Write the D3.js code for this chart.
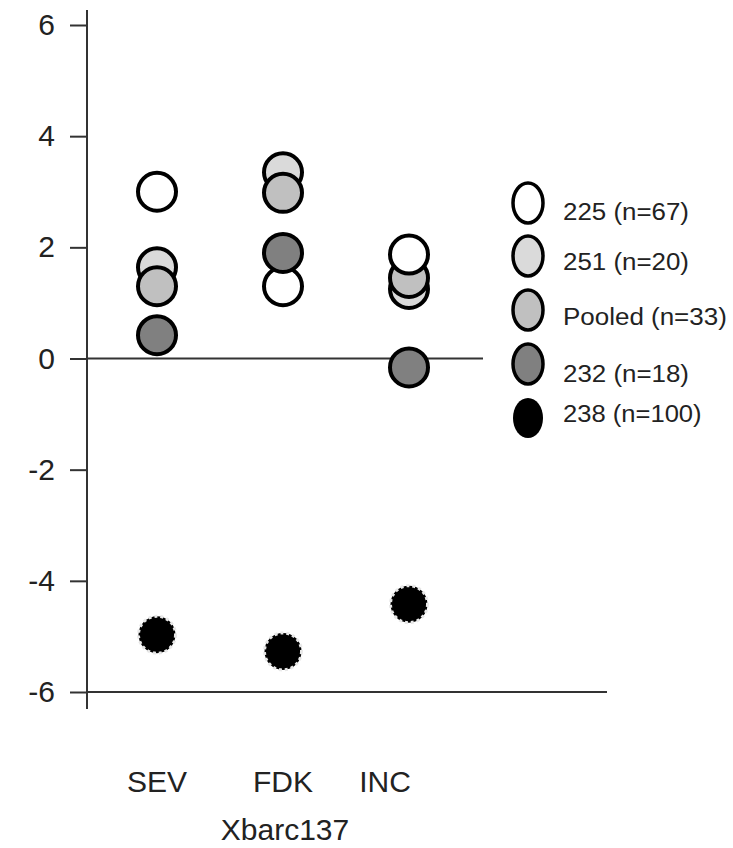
<!DOCTYPE html>
<html>
<head>
<meta charset="utf-8">
<script src="https://cdn.jsdelivr.net/npm/d3@7"></script>
<style>
  body { margin: 0; background: #fff; }
  svg { display: block; }
  text { font-family: "Liberation Sans", Arial, sans-serif; fill: #222; }
</style>
</head>
<body>
<div id="chart"></div>
<script>
'use strict';

var categories = ['SEV', 'FDK', 'INC'];
var alleles = ['225 (n=67)', '251 (n=20)', 'Pooled (n=33)', '232 (n=18)', '238 (n=100)'];
var fills = ['#ffffff', '#dadada', '#c0c0c0', '#808080', '#000000'];

// one value per category (SEV, FDK, INC)
var v225 = [3.0, 1.3, 1.87];
var v251 = [1.64, 3.35, 1.25];
var vPooled = [1.3, 2.98, 1.45];
var v232 = [0.42, 1.9, -0.16];
var v238 = [-4.97, -5.27, -4.42];

var yTicks = [6, 4, 2, 0, -2, -4, -6];

var width = 733, height = 848;

var svg = d3.select('#chart').append('svg')
  .attr('width', width)
  .attr('height', height);

var y = d3.scaleLinear().domain([-6, 6]).range([692, 25]);
var x = d3.scalePoint().domain(categories).range([157, 409]);

// axis line
svg.append('line')
  .attr('x1', 87).attr('x2', 87)
  .attr('y1', 10).attr('y2', 709)
  .attr('stroke', '#333').attr('stroke-width', 2);

var yAxis = d3.axisLeft(y)
  .tickValues(yTicks)
  .tickFormat(function(d){ return String(d); })
  .tickSize(17).tickPadding(15);
var gy = svg.append('g').attr('transform', 'translate(87,0)').call(yAxis);
gy.select('.domain').remove();
gy.selectAll('.tick line').attr('stroke', '#333').attr('stroke-width', 2);
gy.selectAll('.tick text')
  .attr('font-size', 30)
  .style('font-family', '"Liberation Sans", Arial, sans-serif')
  .attr('fill', '#222');

// zero line and bottom line
svg.append('line')
  .attr('x1', 87).attr('x2', 483)
  .attr('y1', y(0)).attr('y2', y(0))
  .attr('stroke', '#333').attr('stroke-width', 2);
svg.append('line')
  .attr('x1', 87).attr('x2', 607)
  .attr('y1', y(-6)).attr('y2', y(-6))
  .attr('stroke', '#333').attr('stroke-width', 2);

// category labels
var labelShift = {SEV: 0, FDK: 0, INC: -24};
svg.selectAll('.cat')
  .data(categories)
  .enter().append('text')
  .attr('class', 'cat')
  .attr('x', function(d){ return x(d) + labelShift[d]; })
  .attr('y', 792)
  .attr('text-anchor', 'middle')
  .attr('font-size', 30)
  .text(function(d){ return d; });

svg.append('text')
  .attr('x', 285).attr('y', 840)
  .attr('text-anchor', 'middle')
  .attr('font-size', 30)
  .text('Xbarc137');

// markers, drawn in the order they stack in the picture
var seriesVals = [v225, v251, vPooled, v232, v238];
var drawOrder = [1, 2, 0, 3, 4];
var points = [];
drawOrder.forEach(function(s){
  categories.forEach(function(c, i){
    points.push({series: s, cat: c, value: seriesVals[s][i]});
  });
});

svg.selectAll('.pt')
  .data(points)
  .enter().append('circle')
  .attr('class', 'pt')
  .attr('cx', function(d){ return x(d.cat); })
  .attr('cy', function(d){ return y(d.value); })
  .attr('r', function(d){ return d.series == 4 ? 18.5 : 19; })
  .attr('fill', function(d){ return fills[d.series]; })
  .attr('stroke', function(d){ return d.series == 4 ? '#e8e8e8' : '#000'; })
  .attr('stroke-width', function(d){ return d.series == 4 ? 3 : 4; })
  .attr('stroke-dasharray', function(d){ return d.series == 4 ? '3,3' : null; });

// legend
var legendY = [203, 256, 310, 364, 418];
var lg = svg.selectAll('.lg')
  .data(alleles)
  .enter().append('g')
  .attr('class', 'lg')
  .attr('transform', function(d, i){ return 'translate(528,' + legendY[i] + ')'; });

lg.append('ellipse')
  .attr('rx', 15).attr('ry', 20)
  .attr('fill', function(d, i){ return fills[i]; })
  .attr('stroke', '#000')
  .attr('stroke-width', function(d, i){ return i == 4 ? 0 : 3.5; });

var textDy = [17, 14, 15, 18, 4];
lg.append('text')
  .attr('x', 35)
  .attr('y', function(d, i){ return textDy[i]; })
  .attr('font-size', 23)
  .attr('textLength', function(d){ return d.length * 12.6; })
  .attr('lengthAdjust', 'spacingAndGlyphs')
  .text(function(d){ return d; });
</script>
</body>
</html>
